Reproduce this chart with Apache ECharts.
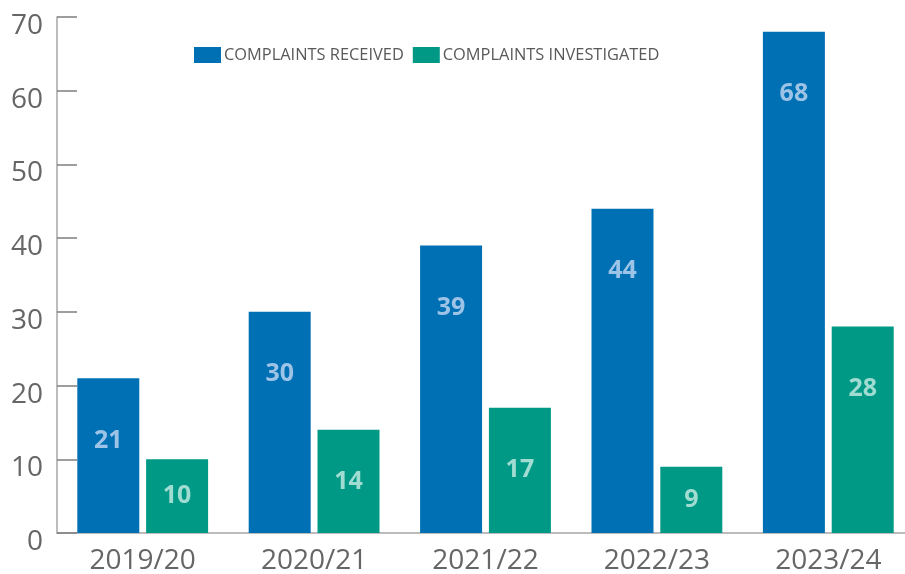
<!DOCTYPE html>
<html>
<head>
<meta charset="utf-8">
<script src="https://cdn.jsdelivr.net/npm/echarts@6/dist/echarts.min.js"></script>
<style>
    html, body { margin: 0; padding: 0; background: #fff; }
    #chart { width: 905px; height: 574px; }
</style>
</head>
<body>
<div id="chart"></div>
<script>
// 数据
var years = ['2019/20', '2020/21', '2021/22', '2022/23', '2023/24'];
var received = [21, 30, 39, 44, 68];
var investigated = [10, 14, 17, 9, 28];
var yTicks = [0, 10, 20, 30, 40, 50, 60, 70];

var fontName = '"Open Sans", "Noto Sans", sans-serif';
var pxPerUnit = 516 / 70;

// 高的柱子标签放在顶部下方，矮的放中间
function makeData(values) {
    return values.map(function (v) {
        var half = v * pxPerUnit / 2;
        if (half > 60) {
            return { value: v, label: { position: 'insideTop', distance: 50 } };
        }
        return { value: v, label: { position: 'inside' } };
    });
}

var myChart = echarts.init(document.getElementById('chart'));
var option = {
    animation: false,
    textStyle: { fontFamily: fontName },
    grid: {
        left: 57,
        width: 857,
        top: 17,
        height: 516,
        outerBoundsMode: 'none',
        containLabel: false
    },
    legend: {
        left: 194,
        top: 47,
        padding: 0,
        itemWidth: 27,
        itemHeight: 16,
        itemGap: 9,
        icon: 'rect',
        textStyle: {
            fontFamily: fontName,
            fontSize: 16.4,
            color: '#595959',
            padding: [0, 0, 0, -2]
        },
        data: ['COMPLAINTS RECEIVED', 'COMPLAINTS INVESTIGATED']
    },
    xAxis: {
        type: 'category',
        data: years,
        axisLine: { lineStyle: { color: '#a6a6a6', width: 1.5 } },
        axisTick: {
            inside: true,
            length: 15,
            lineStyle: { color: '#7f7f7f', width: 1.5 }
        },
        axisLabel: {
            fontSize: 28,
            color: '#666',
            margin: 14,
            fontFamily: fontName
        }
    },
    yAxis: {
        type: 'value',
        min: yTicks[0],
        max: yTicks[yTicks.length - 1],
        interval: 10,
        splitLine: { show: false },
        axisLine: { show: true, lineStyle: { color: '#a6a6a6', width: 1.5 } },
        axisTick: {
            show: true,
            inside: true,
            length: 20,
            lineStyle: { color: '#7f7f7f', width: 1.5 }
        },
        axisLabel: {
            fontSize: 28,
            color: '#666',
            margin: 14,
            verticalAlign: 'top',
            lineHeight: 18,
            fontFamily: fontName
        }
    },
    series: [
        {
            name: 'COMPLAINTS RECEIVED',
            type: 'bar',
            barWidth: 62,
            barGap: '11%',
            itemStyle: { color: '#0070b4' },
            label: {
                show: true,
                color: '#9dc3e6',
                fontSize: 25,
                fontWeight: 'bold',
                fontFamily: fontName
            },
            data: makeData(received)
        },
        {
            name: 'COMPLAINTS INVESTIGATED',
            type: 'bar',
            barWidth: 62,
            barGap: '11%',
            itemStyle: { color: '#009986' },
            label: {
                show: true,
                color: '#a0dcd1',
                fontSize: 25,
                fontWeight: 'bold',
                fontFamily: fontName
            },
            data: makeData(investigated)
        }
    ]
};
myChart.setOption(option);
</script>
</body>
</html>
